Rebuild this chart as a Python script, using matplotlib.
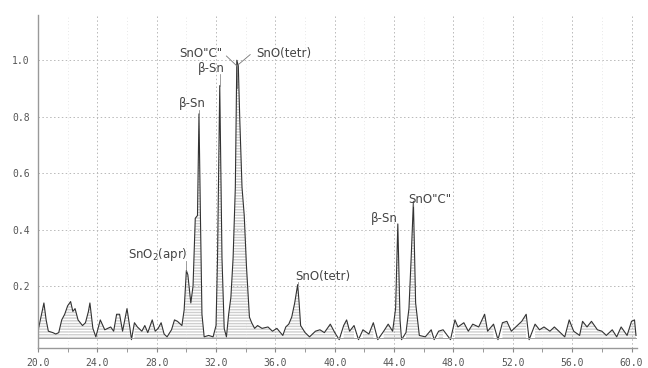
import numpy as np
import matplotlib
matplotlib.use("Agg")
import matplotlib.pyplot as plt

# XRD scan (2-theta, relative intensity)
two_theta = [20.0, 20.2, 20.4, 20.55, 20.7, 21.0, 21.2, 21.4, 21.6, 21.8,
             22.0, 22.2, 22.35, 22.5, 22.7, 23.0, 23.2, 23.4, 23.5, 23.7,
             23.9, 24.2, 24.5, 24.9, 25.1, 25.3, 25.5, 25.7, 26.0, 26.2,
             26.3, 26.5, 26.7, 27.0, 27.2, 27.4, 27.7, 27.9, 28.1, 28.3,
             28.5, 28.7, 29.0, 29.2, 29.4, 29.7, 29.85, 30.0, 30.1, 30.3,
             30.45, 30.6, 30.75, 30.85, 30.95, 31.05, 31.2, 31.5, 31.8, 32.0,
             32.1, 32.25, 32.4, 32.55, 32.7, 32.85, 33.0, 33.15, 33.3, 33.4,
             33.5, 33.6, 33.75, 33.9, 34.05, 34.25, 34.4, 34.6, 34.8, 35.1,
             35.5, 35.8, 36.1, 36.5, 36.7, 36.9, 37.1, 37.3, 37.5, 37.6,
             37.7, 38.0, 38.3, 38.7, 39.0, 39.3, 39.7, 40.0, 40.3, 40.6,
             40.8, 41.0, 41.3, 41.6, 41.9, 42.3, 42.6, 42.9, 43.3, 43.6,
             43.9, 44.1, 44.25, 44.4, 44.5, 44.8, 45.0, 45.15, 45.3, 45.45,
             45.7, 46.1, 46.5, 46.7, 47.0, 47.3, 47.8, 48.1, 48.3, 48.7,
             49.0, 49.3, 49.7, 50.1, 50.3, 50.7, 51.0, 51.3, 51.6, 51.9,
             52.3, 52.6, 52.9, 53.1, 53.5, 53.8, 54.1, 54.5, 54.8, 55.1,
             55.5, 55.8, 56.1, 56.5, 56.7, 57.0, 57.3, 57.7, 58.0, 58.3,
             58.7, 59.0, 59.3, 59.7, 60.0, 60.2, 60.3]
intensity = [0.04, 0.09, 0.14, 0.08, 0.04, 0.035, 0.03, 0.035, 0.08, 0.10,
             0.13, 0.145, 0.11, 0.12, 0.08, 0.06, 0.07, 0.11, 0.14, 0.05,
             0.02, 0.08, 0.045, 0.055, 0.04, 0.10, 0.10, 0.04, 0.12, 0.05,
             0.01, 0.07, 0.055, 0.04, 0.06, 0.035, 0.08, 0.04, 0.05, 0.07,
             0.03, 0.02, 0.045, 0.08, 0.075, 0.06, 0.115, 0.255, 0.24, 0.14,
             0.20, 0.44, 0.45, 0.81, 0.44, 0.10, 0.02, 0.025, 0.02, 0.06,
             0.30, 0.91, 0.30, 0.05, 0.02, 0.10, 0.16, 0.30, 0.55, 1.0,
             0.98, 0.79, 0.55, 0.45, 0.27, 0.09, 0.07, 0.05, 0.06, 0.05,
             0.055, 0.04, 0.05, 0.025, 0.055, 0.065, 0.09, 0.14, 0.205, 0.14,
             0.06, 0.035, 0.02, 0.04, 0.045, 0.035, 0.065, 0.035, 0.01, 0.06,
             0.08, 0.04, 0.06, 0.01, 0.045, 0.03, 0.07, 0.01, 0.04, 0.065,
             0.04, 0.12, 0.42, 0.08, 0.01, 0.035, 0.12, 0.30, 0.50, 0.14,
             0.025, 0.02, 0.045, 0.01, 0.04, 0.045, 0.01, 0.08, 0.055, 0.07,
             0.04, 0.065, 0.055, 0.10, 0.04, 0.065, 0.01, 0.07, 0.075, 0.04,
             0.06, 0.075, 0.10, 0.01, 0.065, 0.045, 0.055, 0.04, 0.055, 0.04,
             0.02, 0.08, 0.04, 0.025, 0.075, 0.055, 0.075, 0.045, 0.04, 0.025,
             0.045, 0.02, 0.055, 0.025, 0.075, 0.08, 0.025]

# phase labels: text, peak position, peak height, label centre x, label centre y
label_text = ["SnO$_2$(apr)", "β-Sn", "β-Sn", "β-Sn", 'SnO"C"', "SnO(tetr)"]
label_peak_x = [30.0, 30.85, 32.25, 44.25, 45.3, 37.5]
label_peak_y = [0.255, 0.81, 0.91, 0.42, 0.50, 0.205]
label_x = [28.1, 30.4, 31.65, 43.35, 46.4, 39.2]
label_y = [0.31, 0.845, 0.97, 0.44, 0.505, 0.235]

# the two labels sharing the big SnO peak
top_text = ['SnO"C"', "SnO(tetr)"]
top_x = [31.0, 36.55]
top_y = [1.025, 1.025]
top_start_x = [32.7, 34.3]
top_start_y = [1.015, 1.02]
top_peak = (33.4, 0.98)

xticks = [20.0, 24.0, 28.0, 32.0, 36.0, 40.0, 44.0, 48.0, 52.0, 56.0, 60.0]
yticks = [0.2, 0.4, 0.6, 0.8, 1.0]

fig = plt.figure(figsize=(6.48, 3.68), dpi=100)
ax = fig.add_axes([0.0586, 0.054, 0.924, 0.905])

x = np.array(two_theta)
y = np.array(intensity)
base = 0.015

ax.fill_between(x, base, y, where=y >= base, facecolor="none", edgecolor="#cfcfcf",
                hatch="------", linewidth=0)
ax.plot(x, y, color="#333333", lw=0.8)
ax.axhline(base, color="#a0a0a0", lw=0.7)

lab_font = dict(fontsize=8.5, color="#444444", ha="center", va="center", family="DejaVu Sans")
for t, px, py, lx, ly in zip(label_text, label_peak_x, label_peak_y, label_x, label_y):
    ax.text(lx, ly, t, **lab_font)
    ax.plot([px, px], [py, ly - 0.02], color="#777777", lw=0.5)

for t, lx, ly in zip(top_text, top_x, top_y):
    ax.text(lx, ly, t, **lab_font)
for sx, sy in zip(top_start_x, top_start_y):
    ax.plot([sx, top_peak[0]], [sy, top_peak[1]], color="#777777", lw=0.6)
ax.plot([top_peak[0], top_peak[0]], [top_peak[1], 0.9], color="#777777", lw=0.6)

ax.set_xlim(20, 60.35)
ax.set_ylim(-0.02, 1.16)
ax.set_xticks(xticks)
ax.set_xticklabels(["%.1f" % v for v in xticks])
ax.set_xticks(np.arange(22, 60, 4), minor=True)
ax.set_yticks(yticks)
ax.set_yticklabels(["%.1f" % v for v in yticks])

for lbl in ax.get_xticklabels() + ax.get_yticklabels():
    lbl.set_fontfamily("DejaVu Sans Mono")
    lbl.set_fontsize(7)
    lbl.set_color("#555555")

ax.tick_params(axis="x", which="both", direction="out", length=3, color="#888888", pad=4)
ax.tick_params(axis="y", length=0, pad=6)
ax.grid(True, which="major", linestyle=(0, (1.5, 2.5)), color="#b8b8b8", lw=0.7)
ax.grid(True, which="minor", axis="x", linestyle=(0, (1, 3)), color="#e0e0e0", lw=0.6)

for s in ["top", "right"]:
    ax.spines[s].set_visible(False)
for s in ["left", "bottom"]:
    ax.spines[s].set_color("#999999")
    ax.spines[s].set_linewidth(1.0)

fig.savefig("out.png", dpi=100)
